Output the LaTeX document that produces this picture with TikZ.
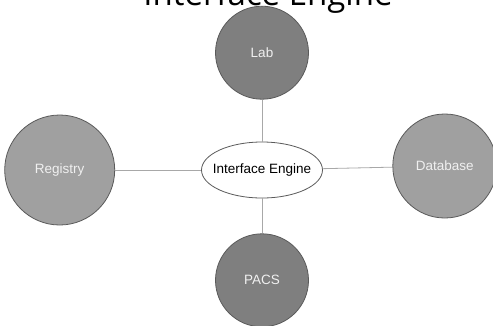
\documentclass[tikz,border=0pt]{standalone}
\usepackage{fontspec}
\setmainfont{Liberation Sans}
\newfontfamily\headfont{Open Sans}
\usepackage{tikz}
\usetikzlibrary{positioning,shapes.geometric}
\definecolor{Rim}{HTML}{5A5A5A}
\definecolor{Dark}{HTML}{7F7F7F}
\definecolor{Light}{HTML}{A0A0A0}
\definecolor{Wire}{HTML}{A8A8A8}
\definecolor{Ink}{HTML}{F0F0F0}
\begin{document}
\begin{tikzpicture}[
  x=1pt,y=1pt,
  disc/.style={circle,draw=Rim,line width=0.8pt,inner sep=0pt,text=Ink,font=\fontsize{13.5}{16}\selectfont},
  darkdisc/.style={disc,fill=Dark,minimum size=93pt},
  lightdisc/.style={disc,fill=Light},
  hub/.style={ellipse,draw=Rim,fill=white,line width=0.8pt,inner xsep=-7pt,minimum width=121pt,minimum height=56pt,font=\fontsize{13.5}{16}\selectfont},
  wire/.style={draw=Wire,line width=0.8pt},
  heading/.style={font=\headfont\fontsize{33}{38}\selectfont,anchor=base}
]
\useasboundingbox (0,0) rectangle (493,-325);
\node[heading] (title) at (268,-5) {Interface Engine};
\node[hub] (engine) at (262,-170) {Interface Engine};
\node[darkdisc,above=42pt of engine] (lab) {Lab};
\node[darkdisc,below=35pt of engine] (pacs) {PACS};
\node[lightdisc,minimum size=110pt,left=86pt of engine] (registry) {Registry};
\node[lightdisc,minimum size=104pt,right=69.5pt of engine,yshift=4pt] (database) {Database};
\draw[wire] (lab) -- (engine);
\draw[wire] (pacs) -- (engine);
\draw[wire] (registry) -- (engine);
\draw[wire] (database) -- (engine);
\end{tikzpicture}
\end{document}
